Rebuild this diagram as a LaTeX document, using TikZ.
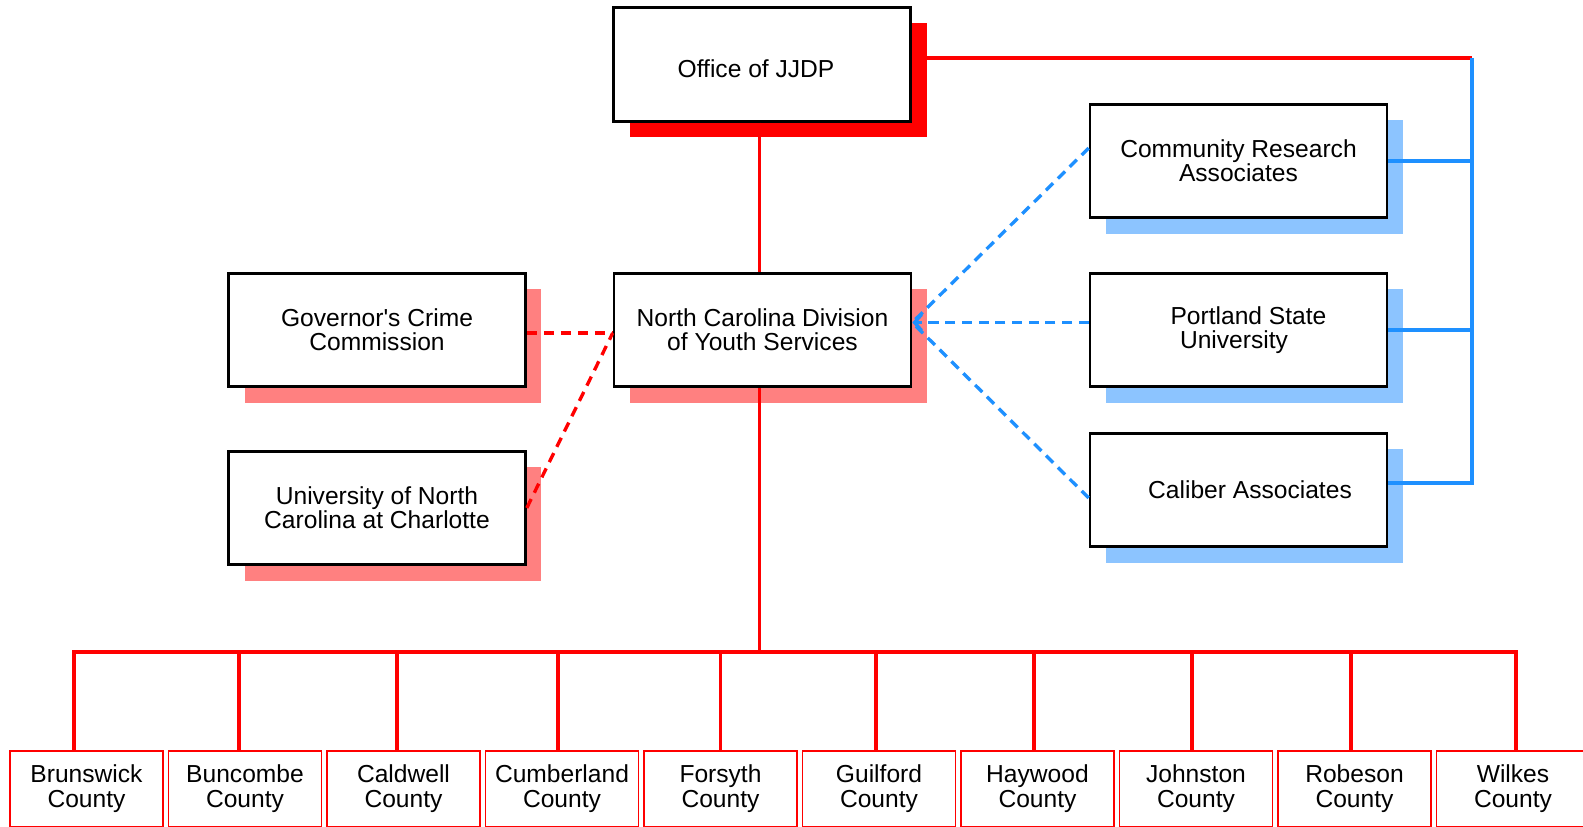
\documentclass[tikz,border=0pt]{standalone}
\usepackage{fontspec}
\setmainfont{Liberation Sans}
\usepackage{tikz}
\usetikzlibrary{calc,shadows,arrows.meta}

\definecolor{jjred}{RGB}{255,0,0}
\definecolor{pinkshade}{RGB}{255,128,128}
\definecolor{jjblue}{RGB}{30,144,255}
\definecolor{lightblueshade}{RGB}{140,196,255}

\tikzset{
  orgbox/.style={rectangle, draw=black, line width=1.5pt, fill=white, minimum width=5.94cm, minimum height=2.27cm, align=center, font=\fontsize{14}{13.8}\selectfont},
  redshadow/.style={general shadow={fill=jjred, shadow xshift=0.33cm, shadow yshift=-0.31cm}},
  pinkshadow/.style={general shadow={fill=pinkshade, shadow xshift=0.32cm, shadow yshift=-0.32cm}},
  blueshadow/.style={general shadow={fill=lightblueshade, shadow xshift=0.32cm, shadow yshift=-0.32cm}},
  countybox/.style={rectangle, draw=jjred, line width=1.1pt, fill=white, minimum width=3.06cm, minimum height=1.52cm, align=center, font=\fontsize{14}{14.3}\selectfont},
  redline/.style={draw=jjred, line width=1.9pt},
  blueline/.style={draw=jjblue, line width=1.9pt},
  reddash/.style={draw=jjred, line width=1.9pt, dash pattern=on 5.7pt off 4pt},
  bluedash/.style={draw=jjblue, line width=1.9pt, dash pattern=on 5.7pt off 3.8pt}
}

\begin{document}
\begin{tikzpicture}[x=0.02cm, y=-0.02cm]
\useasboundingbox (0,0) rectangle (1583,827);

\path (762,64.5) node[orgbox, redshadow] (office) {\hspace*{-0.24cm}\raisebox{-0.08cm}[\height][\depth]{Office of JJDP}};
\path (762.5,330) node[orgbox, pinkshadow] (ncdys) {North Carolina Division\\of Youth Services};
\path (377,330) node[orgbox, pinkshadow] (gov) {Governor\textquotesingle s Crime\\Commission};
\path (377,508) node[orgbox, pinkshadow] (unc) {University of North\\Carolina at Charlotte};
\path (1238.5,161) node[orgbox, blueshadow] (cra) {Community Research\\Associates};
\path (1238.5,330) node[orgbox, blueshadow] (psu) {\hspace*{0.4cm}Portland State\\University\hspace{0.18cm}\mbox{}};
\path (1238.5,490) node[orgbox, blueshadow] (cal) {\hspace*{0.46cm}Caliber Associates};

\foreach \name [count=\i] in {Brunswick,Buncombe,Caldwell,Cumberland,Forsyth,Guilford,Haywood,Johnston,Robeson,Wilkes}
  \path ({86.5+(\i-1)*158.5},789) node[countybox] (c\i) {\name\\County};

\path (1472,58) coordinate (corner);
\path (759.5,652) coordinate (bus);
\path ([yshift=0.15cm]ncdys.east) coordinate (hub);

\draw[redline] (office.south -| bus) -- (ncdys.north -| bus);
\draw[redline] (ncdys.south -| bus) -- (bus);
\foreach \i/\dx in {1/-12.5,2/-6,3/-6.5,4/-4,5/0,6/-3,7/-3.5,8/-4,9/-3.5,10/3}
  \draw[redline] (c\i.north) ++(\dx,0) |- (bus);

\draw[redline] (office.east |- corner) -- (corner);
\draw[blueline] (cra.east) -| (corner);
\draw[blueline] (psu.east) -| (corner);
\draw[blueline] ([yshift=0.14cm]cal.east) -| (corner);

\draw[reddash] ([yshift=-0.06cm]gov.east) -- ([yshift=-0.06cm]ncdys.west);
\draw[reddash] (unc.east) -- ([yshift=-0.06cm]ncdys.west);

\draw[bluedash, -{Straight Barb[length=4pt, width=9pt]}] (psu.west |- hub) -- (hub);
\draw[bluedash] ([yshift=0.26cm]cra.west) -- (hub);
\draw[bluedash] ([yshift=-0.16cm]cal.west) -- (hub);

\end{tikzpicture}
\end{document}
